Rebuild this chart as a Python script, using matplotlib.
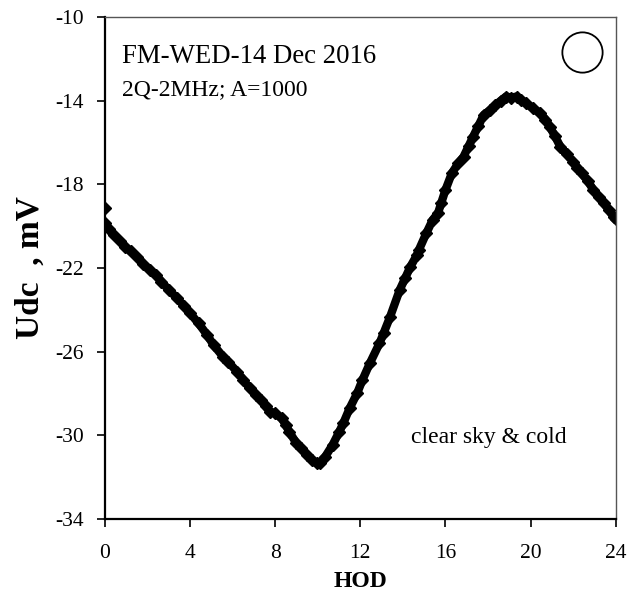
import matplotlib.pyplot as plt
import numpy as np

plt.rcParams['font.family'] = ['Liberation Serif', 'DejaVu Serif']

# hour of day and Udc (mV)
hod = [0, 0, 0.2, 0.4, 0.7, 0.95, 1.2, 1.5, 1.8, 2.1, 2.4, 2.65, 3.0, 3.4, 3.7, 4.0,
       4.4, 4.8, 5.1, 5.55, 5.8, 6.2, 6.5, 6.8, 7.1, 7.35, 7.55, 7.75, 8.0, 8.3, 8.5,
       8.65, 9.0, 9.2, 9.5, 9.75, 9.95, 10.1, 10.35, 10.7, 11.0, 11.2, 11.5, 11.85,
       12.1, 12.45, 12.9, 13.1, 13.4, 13.85, 14.1, 14.35, 14.65, 14.75, 15.1, 15.4,
       15.65, 15.8, 16.0, 16.3, 16.6, 16.85, 17.1, 17.3, 17.55, 17.8, 18.1, 18.35,
       18.6, 18.85, 19.1, 19.35, 19.55, 19.8, 20.1, 20.45, 20.7, 20.9, 21.15, 21.4,
       21.7, 22.0, 22.2, 22.4, 22.7, 22.95, 23.2, 23.45, 23.7, 23.9, 24.0]
udc = [-19.15, -19.85, -20.15, -20.42, -20.7, -20.98, -21.2, -21.46, -21.8, -22.09,
       -22.35, -22.65, -23.05, -23.45, -23.8, -24.16, -24.65, -25.2, -25.68, -26.24,
       -26.5, -26.95, -27.35, -27.75, -28.05, -28.31, -28.6, -28.87, -28.95, -29.18,
       -29.5, -29.82, -30.38, -30.6, -30.94, -31.2, -31.34, -31.3, -31.02, -30.45,
       -29.85, -29.42, -28.7, -27.99, -27.35, -26.55, -25.6, -25.1, -24.33, -23.05,
       -22.5, -21.94, -21.4, -21.14, -20.34, -19.7, -19.38, -18.9, -18.27, -17.47,
       -17.0, -16.68, -16.15, -15.72, -15.2, -14.68, -14.45, -14.21, -14.0, -13.8,
       -13.85, -13.8, -13.95, -14.13, -14.35, -14.6, -14.9, -15.24, -15.7, -16.2,
       -16.55, -16.92, -17.2, -17.47, -17.85, -18.27, -18.6, -18.9, -19.25, -19.55,
       -19.65]
xticks = [0, 4, 8, 12, 16, 20, 24]
yticks = [-34, -30, -26, -22, -18, -14, -10]

fig = plt.figure(figsize=(6.31, 5.95), dpi=100)
ax = fig.add_axes([0.1664, 0.1277, 0.8093, 0.8437])

ax.plot(hod[1:], udc[1:], color='black', lw=6, solid_capstyle='round',
        solid_joinstyle='round')
ax.plot(hod, udc, 'D', color='black', ms=6)

ax.set_xlim(0, 24)
ax.set_ylim(-34, -10)
ax.set_xticks(xticks)
ax.set_yticks(yticks)
ax.set_xticklabels([str(t) for t in xticks])
ax.set_yticklabels([str(t) for t in yticks])
ax.tick_params(direction='out', length=6, width=1.2, labelsize=15.5)
ax.tick_params(axis='x', pad=12)
ax.tick_params(axis='y', pad=9)
ax.tick_params(top=False, right=False)

for s in ['left', 'bottom']:
    ax.spines[s].set_linewidth(1.6)
    ax.spines[s].set_color('black')
for s in ['top', 'right']:
    ax.spines[s].set_linewidth(1.0)
    ax.spines[s].set_color('#555555')

ax.set_xlabel('HOD', fontsize=17, fontweight='bold', labelpad=6)
fig.text(0.0475, 0.551, 'Udc  , mV', rotation=90, ha='center', va='center',
         fontsize=24, fontweight='bold')

ax.text(0.033, 0.908, 'FM-WED-14 Dec 2016', transform=ax.transAxes, fontsize=19.3)
ax.text(0.033, 0.845, '2Q-2MHz; A=1000', transform=ax.transAxes, fontsize=17)
ax.text(0.599, 0.151, 'clear sky & cold', transform=ax.transAxes, fontsize=17)
ax.plot(0.934, 0.930, 'o', transform=ax.transAxes, ms=29, mfc='none',
        mec='black', mew=1.3)

fig.savefig('out.png', dpi=100)
